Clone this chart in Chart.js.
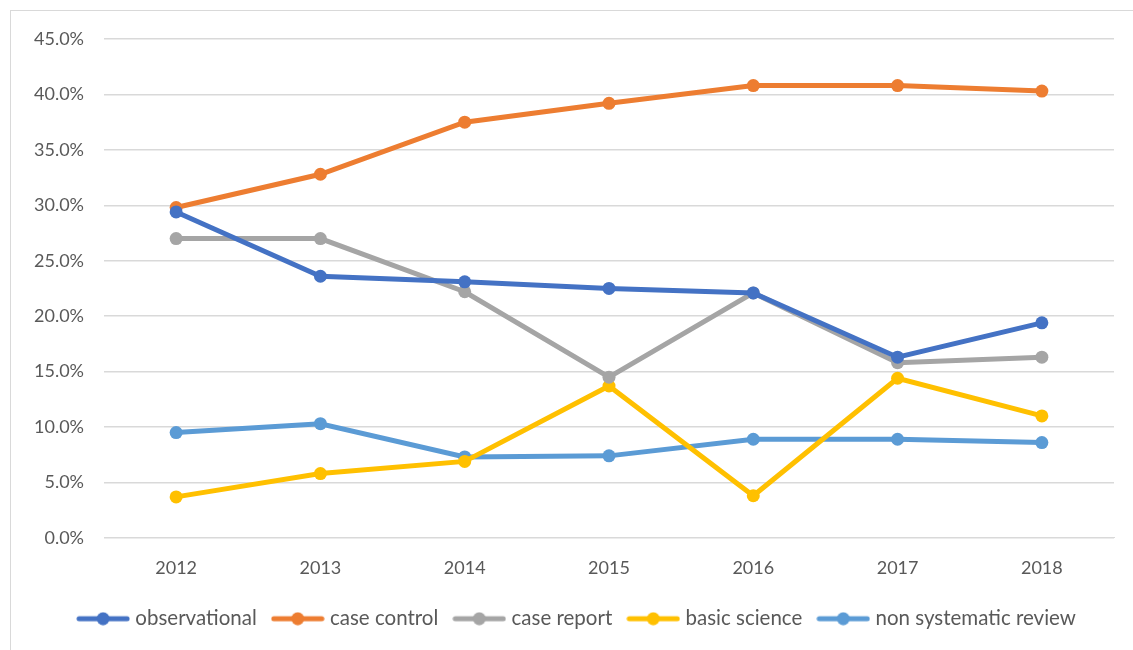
<!DOCTYPE html>
<html lang="en">
<head>
<meta charset="UTF-8">
<title>Study types by year</title>
<script src="https://cdn.jsdelivr.net/npm/chart.js"></script>
<style>
  body { margin: 0; background: #fff; }
  #frame { position: absolute; left: 10px; top: 10px; width: 1140px; height: 660px; border: 1px solid #d9d9d9; }
  #wrap { position: absolute; left: 0; top: 0; width: 1133px; height: 650px; }
</style>
</head>
<body>
<div id="frame"></div>
<div id="wrap"><canvas id="myChart"></canvas></div>

<script>
// years on the x axis
const years = ['2012', '2013', '2014', '2015', '2016', '2017', '2018'];

// percent of papers per study type
const observational = [29.4, 23.6, 23.1, 22.5, 22.1, 16.3, 19.4];
const caseControl   = [29.8, 32.8, 37.5, 39.2, 40.8, 40.8, 40.3];
const caseReport    = [27.0, 27.0, 22.2, 14.5, 22.1, 15.8, 16.3];
const basicScience  = [3.7, 5.8, 6.9, 13.7, 3.8, 14.4, 11.0];
const nonSysReview  = [9.5, 10.3, 7.3, 7.4, 8.9, 8.9, 8.6];

const seriesNames = ['observational', 'case control', 'case report', 'basic science', 'non systematic review'];
const seriesColors = ['#4472C4', '#ED7D31', '#A5A5A5', '#FFC000', '#5B9BD5'];

// small line + dot image for the legend, like Excel does
function legendIcon(color) {
    const c = document.createElement('canvas');
    c.width = 54; c.height = 14;
    const g = c.getContext('2d');
    g.strokeStyle = color;
    g.lineWidth = 5;
    g.lineCap = 'round';
    g.beginPath();
    g.moveTo(3, 7); g.lineTo(51, 7);
    g.stroke();
    g.fillStyle = color;
    g.beginPath();
    g.arc(27, 7, 6.5, 0, Math.PI * 2);
    g.fill();
    return c;
}

// the legend in the original sits a little right of the page centre
const shiftLegend = {
    id: 'shiftLegend',
    afterLayout(chart) {
        chart.legend.left += 12;
        chart.legend.right += 12;
    }
};

const allData = [observational, caseControl, caseReport, basicScience, nonSysReview];

const ctx = document.getElementById('myChart').getContext('2d');
const myChart = new Chart(ctx, {
    type: 'line',
    data: {
        labels: years,
        datasets: allData.map((d, i) => ({
            label: seriesNames[i],
            data: d,
            borderColor: seriesColors[i],
            backgroundColor: seriesColors[i],
            borderWidth: 5,
            pointRadius: 6.5,
            pointHoverRadius: 6.5,
            pointBorderWidth: 0,
            tension: 0
        }))
    },
    options: {
        responsive: true,
        maintainAspectRatio: false,
        animation: false,
        layout: { padding: { top: 39, right: 19, left: 19, bottom: 11 } },
        plugins: {
            tooltip: { enabled: false },
            legend: {
                position: 'bottom',
                labels: {
                    usePointStyle: true,
                    pointStyleWidth: 44,
                    padding: 19,
                    color: '#595959',
                    font: { family: 'Lato', size: 20.5 },
                    generateLabels: (chart) => chart.data.datasets.map((ds, i) => ({
                        text: ds.label,
                        fontColor: '#595959',
                        pointStyle: legendIcon(seriesColors[i]),
                        datasetIndex: i,
                        hidden: false,
                        lineWidth: 0
                    }))
                }
            }
        },
        scales: {
            x: {
                offset: true,
                grid: { display: false },
                border: { color: '#d9d9d9' },
                ticks: { color: '#595959', font: { family: 'Lato', size: 18 }, padding: 11 }
            },
            y: {
                min: 0,
                max: 45,
                afterFit: s => { s.width = 85; },
                grid: { color: '#d9d9d9', lineWidth: 1.5, drawTicks: false },
                border: { display: false },
                ticks: {
                    stepSize: 5,
                    color: '#595959',
                    font: { family: 'Lato', size: 18 },
                    padding: 20,
                    callback: v => v.toFixed(1) + '%'
                }
            }
        }
    },
    plugins: [shiftLegend]
});
</script>
</body>
</html>
